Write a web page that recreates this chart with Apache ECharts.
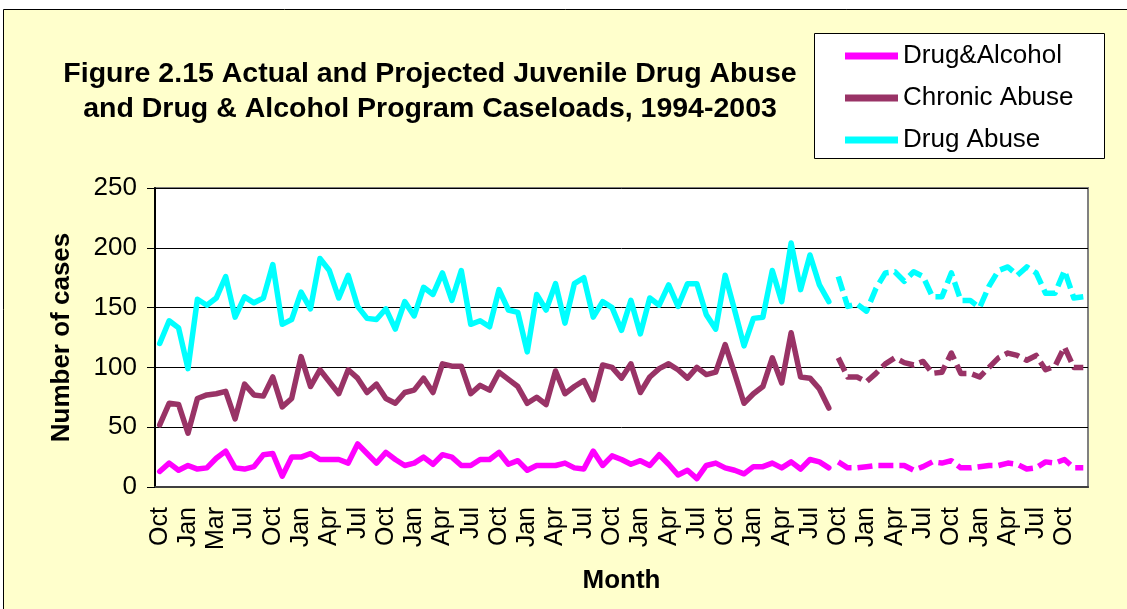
<!DOCTYPE html>
<html>
<head>
<meta charset="utf-8">
<title>Figure 2.15 Juvenile Drug Abuse Caseloads</title>
<script src="https://cdn.jsdelivr.net/npm/echarts@6/dist/echarts.min.js"></script>
<style>
  html, body { margin: 0; padding: 0; background: #fff; }
  #chart { width: 1127px; height: 609px; }
</style>
</head>
<body>
<div id="chart"></div>
<script>
// months Oct 1994 .. Dec 2002 (the source labels the 7th month "Mar")
const months = [
  'Oct', 'Nov', 'Dec',
  'Jan', 'Feb', 'Mar', 'Mar', 'May', 'Jun', 'Jul', 'Aug', 'Sep', 'Oct', 'Nov', 'Dec',
  'Jan', 'Feb', 'Mar', 'Apr', 'May', 'Jun', 'Jul', 'Aug', 'Sep', 'Oct', 'Nov', 'Dec',
  'Jan', 'Feb', 'Mar', 'Apr', 'May', 'Jun', 'Jul', 'Aug', 'Sep', 'Oct', 'Nov', 'Dec',
  'Jan', 'Feb', 'Mar', 'Apr', 'May', 'Jun', 'Jul', 'Aug', 'Sep', 'Oct', 'Nov', 'Dec',
  'Jan', 'Feb', 'Mar', 'Apr', 'May', 'Jun', 'Jul', 'Aug', 'Sep', 'Oct', 'Nov', 'Dec',
  'Jan', 'Feb', 'Mar', 'Apr', 'May', 'Jun', 'Jul', 'Aug', 'Sep', 'Oct', 'Nov', 'Dec',
  'Jan', 'Feb', 'Mar', 'Apr', 'May', 'Jun', 'Jul', 'Aug', 'Sep', 'Oct', 'Nov', 'Dec',
  'Jan', 'Feb', 'Mar', 'Apr', 'May', 'Jun', 'Jul', 'Aug', 'Sep', 'Oct', 'Nov', 'Dec'
];

// actual caseloads, Oct 1994 - Sep 2000
const drugAlcoholActual = [13, 20, 14, 18, 15, 16, 24, 30, 16, 15, 17, 27, 28, 9, 25, 25, 28, 23, 23, 23,
  20, 36, 28, 20, 29, 23, 18, 20, 25, 19, 27, 25, 18, 18, 23, 23, 29, 19, 22, 14,
  18, 18, 18, 20, 16, 15, 30, 18, 26, 23, 19, 22, 18, 27, 19, 10, 14, 7, 18, 20,
  16, 14, 11, 17, 17, 20, 16, 21, 15, 23, 21, 16];
const chronicActual = [52, 70, 69, 45, 74, 77, 78, 80, 57, 86, 77, 76, 92, 67, 74, 109, 84, 98, 88, 78,
  98, 91, 79, 86, 74, 70, 79, 81, 91, 79, 103, 101, 101, 78, 85, 81, 96, 90, 84, 70,
  75, 69, 97, 78, 84, 89, 73, 102, 100, 91, 103, 79, 92, 99, 103, 98, 91, 100, 94, 96,
  119, 95, 70, 78, 84, 108, 87, 129, 92, 91, 82, 66];
const drugAbuseActual = [120, 139, 133, 99, 157, 152, 158, 176, 142, 159, 154, 158, 186, 136, 140, 163, 149, 191, 181, 158,
  177, 151, 141, 140, 149, 132, 155, 143, 167, 161, 179, 156, 181, 136, 139, 134, 165, 148, 146, 113,
  161, 148, 170, 137, 170, 175, 142, 155, 150, 131, 156, 128, 158, 152, 169, 151, 170, 170, 144, 132,
  177, 148, 118, 141, 142, 181, 155, 204, 165, 194, 169, 155];

// projected caseloads, Oct 2000 - Dec 2002
const drugAlcoholProj = [21, 16, 16, 17, 18, 18, 18, 18, 14, 17, 21, 20, 22, 16, 16, 17, 18, 18, 20, 19,
  15, 16, 21, 20, 23, 16, 16];
const chronicProj = [108, 92, 92, 88, 95, 103, 108, 104, 102, 105, 95, 96, 112, 95, 95, 92, 100, 108, 112, 110,
  106, 110, 98, 101, 117, 100, 100];
const drugAbuseProj = [176, 151, 153, 147, 166, 179, 180, 172, 180, 176, 159, 159, 179, 156, 156, 150, 168, 181, 184, 177,
  184, 179, 162, 162, 181, 158, 159];

const seriesNames = ['Drug&Alcohol', 'Chronic Abuse', 'Drug Abuse'];
const seriesColors = ['#FF00FF', '#993366', '#00FFFF'];

const FONT = '"Liberation Sans", Arial, sans-serif';

// projected values sit after the actual months
const pad = new Array(drugAlcoholActual.length).fill(null);
const actual = [drugAlcoholActual, chronicActual, drugAbuseActual];
const projected = [drugAlcoholProj, chronicProj, drugAbuseProj];

const seriesLs = [];
actual.forEach((arr, i) => {
  seriesLs.push({
    name: seriesNames[i],
    type: 'line',
    data: arr,
    showSymbol: false,
    symbol: 'none',
    color: seriesColors[i],
    lineStyle: { width: 5.5, color: seriesColors[i], join: 'round', cap: 'round' }
  });
});
projected.forEach((arr, i) => {
  seriesLs.push({
    name: seriesNames[i] + ' projected',
    type: 'line',
    data: pad.concat(arr),
    showSymbol: false,
    symbol: 'none',
    color: seriesColors[i],
    lineStyle: { width: 5.5, color: seriesColors[i], type: [15, 6], cap: 'butt', join: 'round' }
  });
});

const chartInstance = echarts.init(document.getElementById('chart'));
const option = {
  backgroundColor: '#FFFFCC',
  animation: false,
  title: {
    text: 'Figure 2.15 Actual and Projected Juvenile Drug Abuse\nand Drug & Alcohol Program Caseloads, 1994-2003',
    left: 430,
    top: 57,
    padding: 0,
    textAlign: 'center',
    textStyle: { fontFamily: FONT, fontSize: 28.5, fontWeight: 'bold', color: '#000', lineHeight: 35 }
  },
  legend: {
    data: seriesNames,
    orient: 'vertical',
    left: 845,
    top: 41,
    padding: 0,
    itemGap: 12,
    itemWidth: 53,
    itemHeight: 7,
    icon: 'rect',
    textStyle: { fontFamily: FONT, fontSize: 26, color: '#000', lineHeight: 30 }
  },
  grid: {
    left: 155,
    right: 39,
    top: 188,
    bottom: 122,
    show: true,
    backgroundColor: '#fff',
    borderColor: '#808080',
    borderWidth: 2
  },
  xAxis: {
    type: 'category',
    data: months,
    boundaryGap: true,
    name: 'Month',
    nameLocation: 'middle',
    nameGap: 81,
    nameTextStyle: { fontFamily: FONT, fontSize: 26, fontWeight: 'bold', color: '#000' },
    axisLine: { lineStyle: { color: '#404040', width: 2 } },
    axisTick: { interval: 0, length: 9, lineStyle: { color: '#000' } },
    axisLabel: { interval: 2, rotate: 90, margin: 20, fontFamily: FONT, fontSize: 25, color: '#000' },
    splitLine: { show: false }
  },
  yAxis: {
    type: 'value',
    min: 0,
    max: 250,
    interval: 50,
    name: 'Number of cases',
    nameLocation: 'middle',
    nameGap: 80,
    nameTextStyle: { fontFamily: FONT, fontSize: 26, fontWeight: 'bold', color: '#000' },
    axisLine: { show: true, lineStyle: { color: '#000', width: 2 } },
    axisTick: { show: true, length: 8, lineStyle: { color: '#000' } },
    axisLabel: { margin: 18, fontFamily: FONT, fontSize: 26, color: '#000' },
    splitLine: { lineStyle: { color: '#000', width: 1 } }
  },
  graphic: [
    // white margin above and left of the chart area, then its border
    { type: 'rect', shape: { x: 0, y: 0, width: 1127, height: 9 }, style: { fill: '#fff' }, silent: true },
    { type: 'rect', shape: { x: 0, y: 0, width: 3, height: 609 }, style: { fill: '#fff' }, silent: true },
    { type: 'polyline', shape: { points: [[3.5, 609], [3.5, 9.5], [1127, 9.5]] }, style: { stroke: '#000', lineWidth: 1, fill: null }, silent: true },
    // legend box
    { type: 'rect', z: -1, shape: { x: 814.5, y: 33.5, width: 290, height: 125 }, style: { fill: '#fff', stroke: '#000', lineWidth: 1 }, silent: true }
  ],
  series: seriesLs
};
chartInstance.setOption(option);
window.addEventListener('resize', () => chartInstance.resize());
</script>
</body>
</html>
